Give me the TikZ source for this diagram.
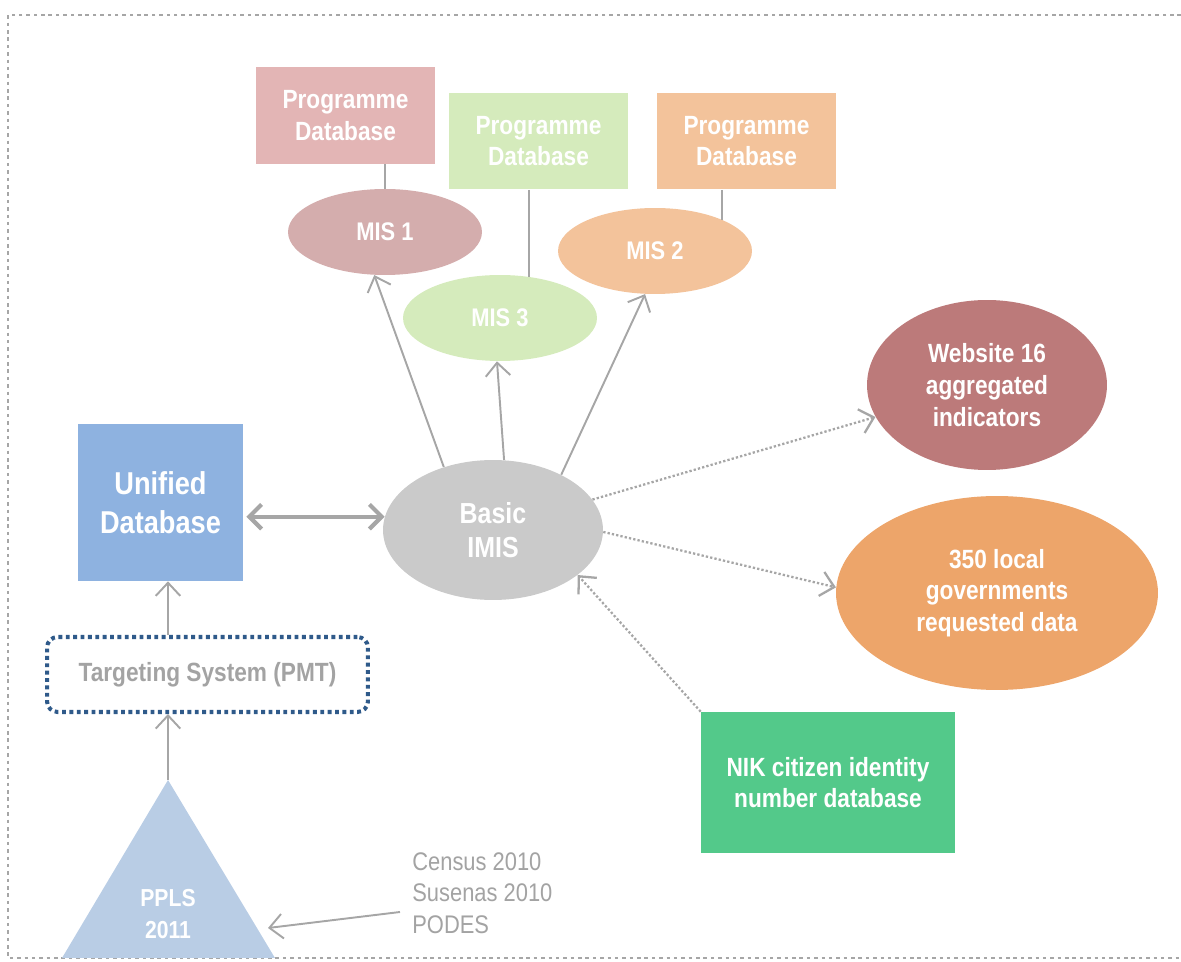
\documentclass[tikz,border=0pt]{standalone}
\usepackage{fontspec}
\setmainfont{Liberation Sans}[FakeStretch=0.86]
\usepackage{xcolor}
\usepackage{tikz}
\usetikzlibrary{positioning, arrows.meta, calc, shapes.geometric}

\definecolor{pdpink}{HTML}{E3B5B5}
\definecolor{pdgreen}{HTML}{D5EBBC}
\definecolor{pdorange}{HTML}{F3C39B}
\definecolor{misred}{HTML}{D4ADAD}
\definecolor{imisgray}{HTML}{CACACA}
\definecolor{unifiedblue}{HTML}{8EB2E0}
\definecolor{webred}{HTML}{BC7A7A}
\definecolor{localorange}{HTML}{EDA56A}
\definecolor{nikgreen}{HTML}{53C98A}
\definecolor{pplsblue}{HTML}{B9CDE5}
\definecolor{tsblue}{HTML}{2F5A8A}
\definecolor{linegray}{HTML}{A6A6A6}
\definecolor{textgray}{HTML}{A3A3A3}

\tikzset{
  box/.style={rectangle, inner sep=0pt, align=center, text=white},
  pdbox/.style={box, minimum width=3.58cm, minimum height=1.94cm, font=\bfseries\fontsize{15}{18}\selectfont},
  mis/.style={ellipse, inner sep=0pt, minimum width=3.88cm, minimum height=1.72cm, text=white, font=\bfseries\fontsize{14.5}{17}\selectfont},
  bubble/.style={ellipse, inner sep=0pt, align=center, text=white, font=\bfseries\fontsize{15}{18}\selectfont},
  link/.style={draw=linegray, line width=1.1pt},
  arr/.style={link, -{Straight Barb[length=7.5pt,width=14pt]}},
  dots/.style={arr, line width=1.3pt, dash pattern=on 1.3pt off 1.2pt},
}

\begin{document}
\begin{tikzpicture}[x=0.02cm, y=-0.02cm]
\useasboundingbox (0,0) rectangle (1181,962);

% frame
\draw[linegray, line width=1.1pt, dash pattern=on 2pt off 2.2pt] (1181,15) -- (8,15) -- (8,958) -- (1181,958);

% programme databases and MIS
\node[pdbox, fill=pdpink] (pd1) at (345.5,115.5) {Programme\\Database};
\node[pdbox, fill=pdgreen] (pd3) at (538.5,141) {Programme\\Database};
\node[pdbox, fill=pdorange] (pd2) at (746.5,141) {Programme\\Database};

\node[mis, fill=misred] (mis1) at (385,232) {MIS 1};
\node[mis, fill=pdgreen] (mis3) at (500,318) {MIS 3};
\node[mis, fill=pdorange] (mis2) at (655,251) {MIS 2};

\draw[link] (mis1.north |- pd1.south) -- (mis1.north);
\draw[link] (mis3.55 |- pd3.south) -- (mis3.55);
\draw[link] (mis2.25 |- pd2.south) -- (mis2.25);

% core
\node[ellipse, fill=imisgray, inner sep=0pt, minimum width=4.4cm, minimum height=2.8cm, align=center, text=white,
      font=\bfseries\fontsize{16.5}{19.5}\selectfont] (imis) at (493,530) {Basic\\IMIS};
\node[box, fill=unifiedblue, minimum width=3.3cm, minimum height=3.14cm,
      font=\bfseries\fontsize{18}{22}\selectfont] (unified) at (160.5,502.5) {Unified\\Database};
\node[rectangle, draw=tsblue, line width=2.3pt, dash pattern=on 2.2pt off 2pt, rounded corners=6pt,
      minimum width=6.42cm, minimum height=1.5cm, text=textgray, font=\bfseries\fontsize{15}{18}\selectfont] (targeting) at (207.5,674.5) {Targeting System (PMT)};

% PPLS
\fill[pplsblue] (62,958) -- (168,780) -- (275,958) -- cycle;
\coordinate (pplstop) at (168,780);
\coordinate (pplsside) at (268,928);
\coordinate (stem) at (168,0);
\node[align=center, text=white, font=\bfseries\fontsize{14}{18}\selectfont] (ppls) at (168,914) {PPLS\\2011};

\node[anchor=west, inner sep=0pt, align=left, text=textgray, font=\fontsize{14.5}{17.9}\selectfont] (census) at (412,893) {Census 2010\\Susenas 2010\\PODES};

% outputs
\node[bubble, fill=webred, minimum width=4.8cm, minimum height=3.4cm] (website) at (987,385) {Website 16\\aggregated\\indicators};
\node[bubble, fill=localorange, minimum width=6.44cm, minimum height=3.88cm] (local) at (997,593) {350 local\\governments\\requested data};
\node[box, fill=nikgreen, minimum width=5.08cm, minimum height=2.82cm,
      font=\bfseries\fontsize{15}{18}\selectfont] (nik) at (828,782.5) {NIK citizen identity\\number database};

% connectors
\draw[arr] (imis.128) -- (mis1.256);
\draw[arr] (imis.81) -- (mis3.266);
\draw[arr] (imis.39) -- (mis2.257);
\draw[link, line width=2.4pt, {Straight Barb[length=7pt,width=14pt]}-{Straight Barb[length=7pt,width=14pt]}]
  ($(unified.east |- imis.173)+(3,0)$) -- (imis.173);
\draw[arr] (targeting.north -| stem) -- (unified.south -| stem);
\draw[arr] (pplstop) -- (targeting.south -| stem);
\draw[arr] ($(census.west)+(-12,19)$) -- (pplsside);

\draw[dots] (imis.17) -- (website.196);
\draw[dots] (imis.-1) -- (local.178);
\draw[dots] (nik.north west) -- (imis.-28);
\end{tikzpicture}
\end{document}
